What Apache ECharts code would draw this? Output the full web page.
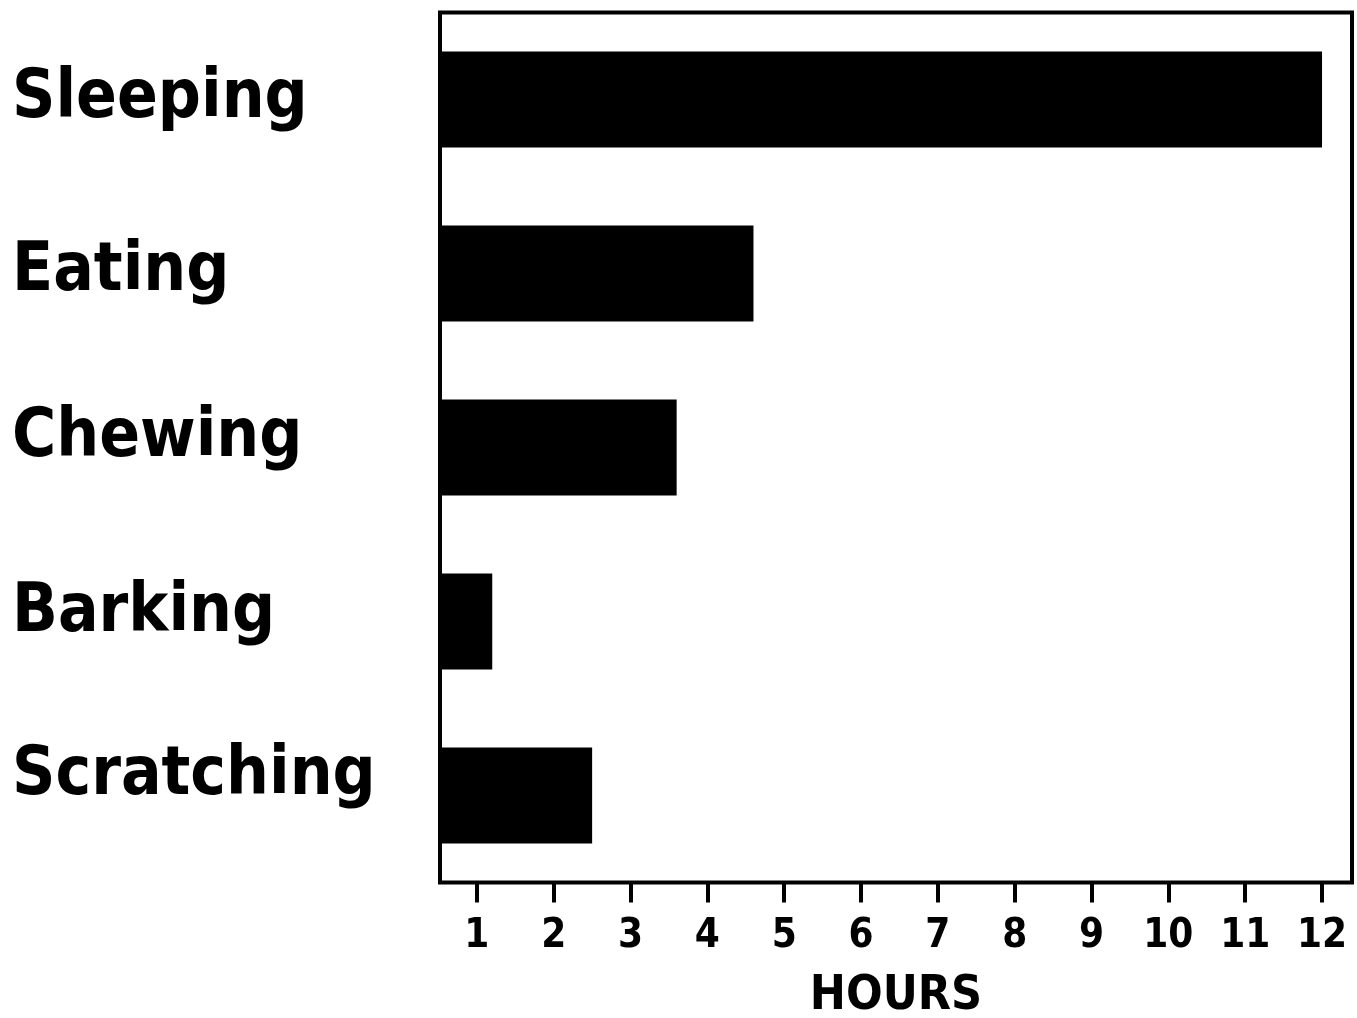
<!DOCTYPE html>
<html>
<head>
<meta charset="utf-8">
<script src="https://cdn.jsdelivr.net/npm/echarts@6/dist/echarts.min.js"></script>
<style>
  html, body { margin: 0; padding: 0; background: #fff; }
  #chart { width: 1357px; height: 1018px; }
</style>
</head>
<body>
<div id="chart"></div>
<script>
// activities and hours
var activities = ['Sleeping', 'Eating', 'Chewing', 'Barking', 'Scratching'];
var hours = [12, 4.6, 3.6, 1.2, 2.5];
var hourTicks = [1, 2, 3, 4, 5, 6, 7, 8, 9, 10, 11, 12];

var FONT = '"DejaVu Sans Condensed", "Liberation Sans Narrow", sans-serif';

// the category labels sit a little above their bars, more so lower down
var labelLift = [0, 1, 9, 7.5, 18.5];
var labelRich = {};
labelLift.forEach(function (lift, i) {
  labelRich['c' + i] = {
    fontFamily: FONT,
    fontWeight: 'bold',
    fontSize: 67,
    color: '#000',
    padding: [0, 0, lift * 2, 0]
  };
});

var myChart = echarts.init(document.getElementById('chart'), null, { renderer: 'canvas' });

var option = {
  backgroundColor: '#fff',
  animation: false,
  grid: {
    left: 440,
    right: 5,
    top: 12.5,
    bottom: 135.5,
    outerBoundsMode: 'none',
    containLabel: false,
    show: true,
    borderColor: '#000',
    borderWidth: 4,
    backgroundColor: 'transparent'
  },
  xAxis: {
    type: 'value',
    min: 0.52,
    max: 12.39,
    name: 'HOURS',
    nameLocation: 'middle',
    nameGap: 90,
    nameTextStyle: {
      fontFamily: FONT,
      fontWeight: 'bold',
      fontSize: 48,
      color: '#000'
    },
    axisLine: { show: false },
    splitLine: { show: false },
    axisTick: {
      show: true,
      customValues: hourTicks,
      length: 20,
      lineStyle: { color: '#000', width: 4 }
    },
    axisLabel: {
      customValues: hourTicks,
      margin: 34,
      fontFamily: FONT,
      fontWeight: 'bold',
      fontSize: 40,
      color: '#000'
    }
  },
  yAxis: {
    type: 'category',
    data: activities,
    inverse: true,
    axisLine: { show: false },
    axisTick: { show: false },
    splitLine: { show: false },
    axisLabel: {
      align: 'left',
      margin: 428,
      fontFamily: FONT,
      fontWeight: 'bold',
      fontSize: 67,
      color: '#000',
      formatter: function (value, index) {
        return '{c' + index + '|' + value + '}';
      },
      rich: labelRich
    }
  },
  series: [
    {
      type: 'bar',
      data: hours,
      barWidth: 96,
      clip: true,
      itemStyle: { color: '#000' }
    }
  ]
};

option && myChart.setOption(option);
</script>
</body>
</html>
